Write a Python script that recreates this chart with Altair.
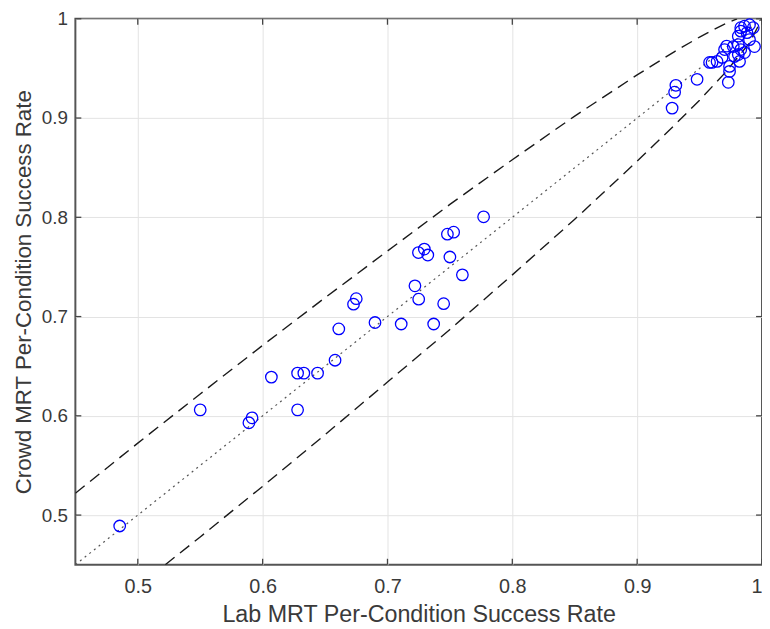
import altair as alt
import pandas as pd

# Scatter points
lab = [0.4855, 0.550, 0.5915, 0.589, 0.607, 0.628, 0.633, 0.644, 0.628, 0.658,
       0.661, 0.690, 0.711, 0.737, 0.6728, 0.675, 0.722, 0.725, 0.745, 0.760,
       0.750, 0.777, 0.748, 0.753, 0.7248, 0.7295, 0.7323,
       0.928, 0.930, 0.931, 0.948, 0.958, 0.973, 0.974, 0.974,
       0.960, 0.964, 0.968, 0.970, 0.9717, 0.977, 0.981, 0.983, 0.978, 0.981,
       0.986, 0.994, 0.990, 0.988, 0.983, 0.981, 0.986, 0.990, 0.983, 0.993, 0.982]
crowd = [0.489, 0.606, 0.598, 0.593, 0.639, 0.643, 0.643, 0.643, 0.606, 0.656,
         0.6875, 0.694, 0.6925, 0.6925, 0.7125, 0.718, 0.731, 0.7175, 0.713, 0.742,
         0.760, 0.8005, 0.783, 0.785, 0.7645, 0.768, 0.762,
         0.910, 0.926, 0.933, 0.939, 0.956, 0.936, 0.947, 0.952,
         0.956, 0.957, 0.961, 0.969, 0.9725, 0.972, 0.974, 0.969, 0.962, 0.964,
         0.966, 0.972, 0.979, 0.986, 0.9875, 0.9825, 0.9925, 0.994, 0.991, 0.991, 0.957]

# Upper / lower dashed bounds
upper_x = [0.45, 0.50, 0.55, 0.60, 0.65, 0.70, 0.75, 0.80, 0.85, 0.90, 0.93, 0.95, 0.97, 0.98]
upper_y = [0.522, 0.5725, 0.622, 0.671, 0.719, 0.766, 0.813, 0.858, 0.902, 0.9435, 0.967, 0.9816, 0.9947, 1.0]
lower_x = [0.522, 0.55, 0.60, 0.65, 0.70, 0.75, 0.80, 0.85, 0.90, 0.93, 0.95, 0.97, 0.99, 1.0]
lower_y = [0.45, 0.478, 0.529, 0.581, 0.634, 0.687, 0.742, 0.798, 0.8565, 0.893, 0.918, 0.945, 0.9756, 1.0]
diag = [0.45, 1.0]

x_ticks = [0.5, 0.6, 0.7, 0.8, 0.9, 1.0]
y_ticks = [0.5, 0.6, 0.7, 0.8, 0.9, 1.0]

FONT = "Liberation Sans"
TXT = "#3a3a3a"
xs = alt.Scale(domain=[0.45, 1.0], nice=False, zero=False)
ys = alt.Scale(domain=[0.45, 1.0], nice=False, zero=False)

xax = alt.Axis(title="Lab MRT Per-Condition Success Rate", values=x_ticks, format="~g",
               grid=True, gridColor="#e3e3e3", gridWidth=1, domain=False, ticks=False,
               labelPadding=12, labelFontSize=20, labelColor=TXT, labelFont=FONT,
               titleFont=FONT, titleFontSize=23.5, titleFontWeight="normal", titleColor=TXT,
               titlePadding=6)
yax = alt.Axis(title="Crowd MRT Per-Condition Success Rate", values=y_ticks, format="~g",
               grid=True, gridColor="#e3e3e3", gridWidth=1, domain=False, ticks=False,
               labelPadding=8, labelFontSize=19, labelColor=TXT, labelFont=FONT,
               titleFont=FONT, titleFontSize=22.5, titleFontWeight="normal", titleColor=TXT,
               titlePadding=6)

pts = pd.DataFrame({"lab": lab, "crowd": crowd})
up = pd.DataFrame({"x": upper_x, "y": upper_y})
lo = pd.DataFrame({"x": lower_x, "y": lower_y})
dg = pd.DataFrame({"x": diag, "y": diag})
xt = pd.DataFrame({"v": x_ticks})
yt = pd.DataFrame({"v": y_ticks})

base_axes = alt.Chart(dg).mark_line(strokeDash=[2, 4], color="#555555", strokeWidth=1.2, clip=True).encode(
    x=alt.X("x:Q", scale=xs, axis=xax),
    y=alt.Y("y:Q", scale=ys, axis=yax),
)
upper = alt.Chart(up).mark_line(strokeDash=[12, 7], color="#1a1a1a", strokeWidth=1.4, clip=True).encode(
    x=alt.X("x:Q", scale=xs), y=alt.Y("y:Q", scale=ys))
lower = alt.Chart(lo).mark_line(strokeDash=[12, 7], color="#1a1a1a", strokeWidth=1.4, clip=True).encode(
    x=alt.X("x:Q", scale=xs), y=alt.Y("y:Q", scale=ys))
points = alt.Chart(pts).mark_point(shape="circle", size=135, filled=False, color="#0000ff",
                                   strokeWidth=1.3, opacity=1).encode(
    x=alt.X("lab:Q", scale=xs), y=alt.Y("crowd:Q", scale=ys))

# inward tick marks on all four sides
H = 551
W = 693
tick_b = alt.Chart(xt).mark_rule(color="#444444", strokeWidth=1.3).encode(
    x=alt.X("v:Q", scale=xs), y=alt.value(H), y2=alt.value(H - 6))
tick_t = alt.Chart(xt).mark_rule(color="#444444", strokeWidth=1.3).encode(
    x=alt.X("v:Q", scale=xs), y=alt.value(0), y2=alt.value(6))
tick_l = alt.Chart(yt).mark_rule(color="#444444", strokeWidth=1.3).encode(
    y=alt.Y("v:Q", scale=ys), x=alt.value(0), x2=alt.value(6))
tick_r = alt.Chart(yt).mark_rule(color="#444444", strokeWidth=1.3).encode(
    y=alt.Y("v:Q", scale=ys), x=alt.value(W), x2=alt.value(W - 6))

chart = alt.layer(base_axes, upper, lower, points, tick_b, tick_t, tick_l, tick_r).properties(
    width=W, height=H,
    autosize=alt.AutoSizeParams(type="none"),
    padding={"left": 68, "top": 8, "right": 0, "bottom": 62},
    background="white",
).configure_view(stroke="#555555", strokeWidth=2)

chart.save("out.html", embed_options={"renderer": "svg", "actions": False})
